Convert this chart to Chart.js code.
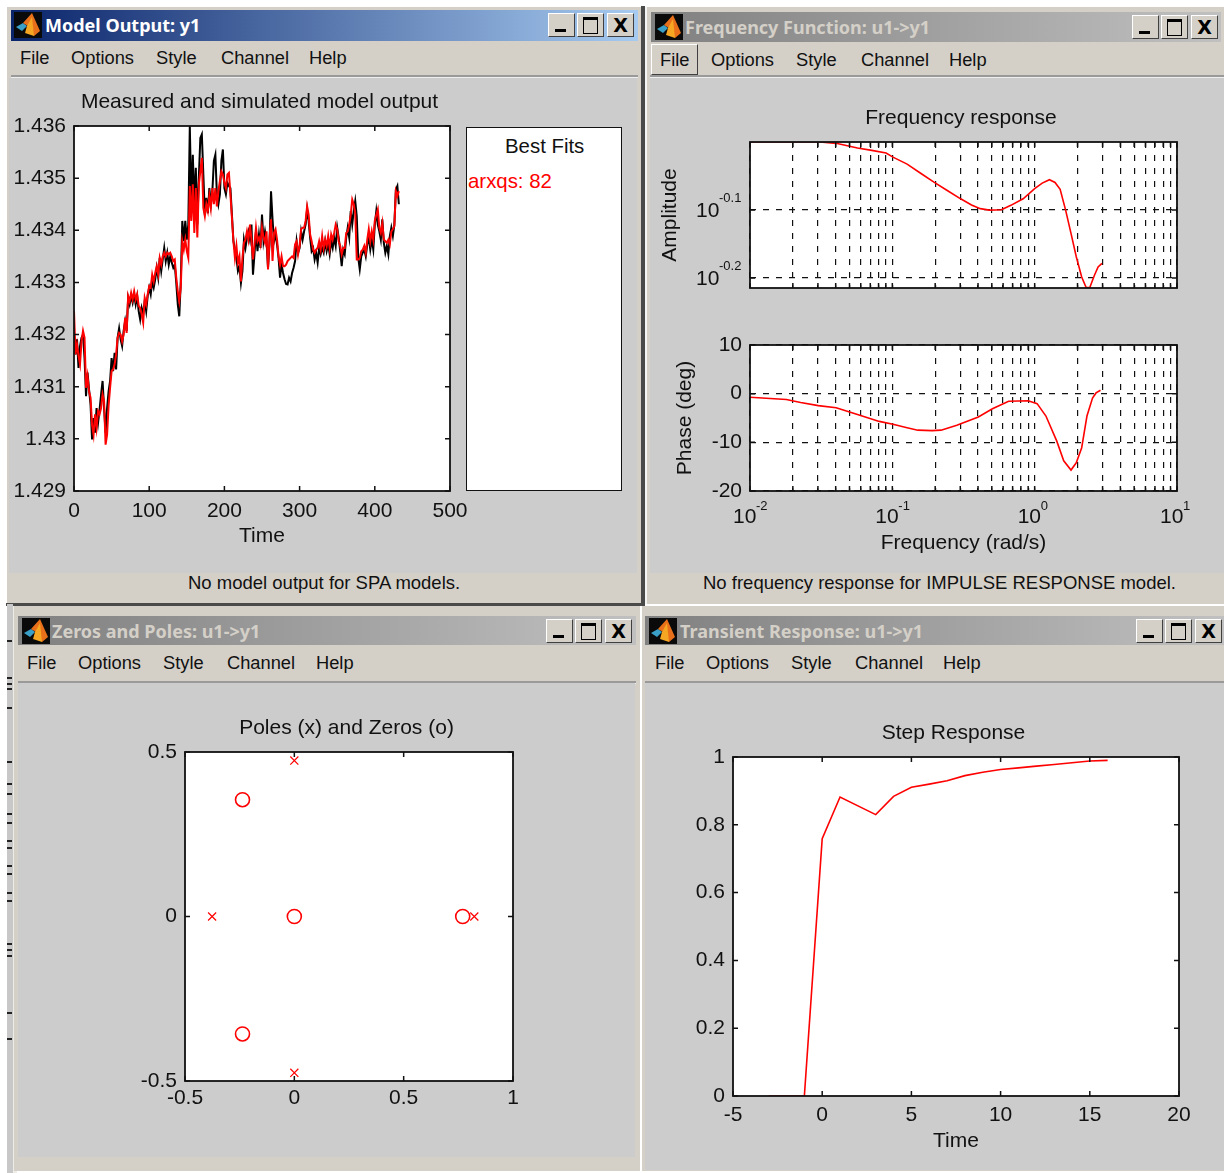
<!DOCTYPE html>
<html>
<head>
<meta charset="utf-8">
<title>System identification windows</title>
<script src="https://cdn.jsdelivr.net/npm/chart.js@4/dist/chart.umd.min.js"></script>
<style>
  html, body { margin: 0; padding: 0; background: #fff; }
  #page { position: relative; width: 1224px; height: 1173px; overflow: hidden; background: #fff; filter: blur(0.6px); font-family: 'Liberation Sans', sans-serif; color: #111; }
  #page div, #page span, #page canvas { position: absolute; }
  .menu { font-size: 18.3px; line-height: 22px; white-space: nowrap; }
  .status { font-size: 18.5px; line-height: 22px; white-space: nowrap; }
  .caption { font-family: 'Noto Sans', sans-serif; font-weight: 700; font-size: 18px; line-height: 26px; white-space: nowrap; }
  .btn { background: #d4d0c8; box-sizing: border-box; border: 1.5px solid; border-color: #fff #404040 #404040 #fff; }
</style>
</head>
<body>
<div id="page">
  <canvas id="outputChart"></canvas>
  <canvas id="amplitudeChart"></canvas>
  <canvas id="phaseChart"></canvas>
  <canvas id="polesChart"></canvas>
  <canvas id="stepChart"></canvas>
</div>
<script>
// Model output, one sample every 2 time units
const sampleStep = 2
const measured = [
  1.43200,1.43162,1.43191,1.43136,1.43178,1.43194,1.43200,1.43155,1.43082,1.43127,1.43095,1.43066,1.42999,1.43040,1.43012,1.43059,1.43031,1.43056,1.43085,1.43111,
  1.43059,1.43012,1.43059,1.43091,1.43111,1.43155,1.43130,1.43165,1.43133,1.43194,1.43212,1.43191,1.43178,1.43207,1.43226,1.43207,1.43270,1.43258,1.43274,1.43261,
  1.43277,1.43258,1.43274,1.43245,1.43229,1.43251,1.43239,1.43264,1.43245,1.43274,1.43290,1.43277,1.43302,1.43290,1.43306,1.43328,1.43309,1.43347,1.43322,1.43344,
  1.43366,1.43341,1.43357,1.43334,1.43350,1.43338,1.43328,1.43334,1.43299,1.43258,1.43235,1.43302,1.43418,1.43379,1.43418,1.43382,1.43411,1.43600,1.43456,1.43545,
  1.43450,1.43520,1.43411,1.43501,1.43577,1.43584,1.43507,1.43430,1.43462,1.43433,1.43481,1.43450,1.43475,1.43533,1.43545,1.43469,1.43450,1.43469,1.43533,1.43555,
  1.43481,1.43469,1.43491,1.43485,1.43481,1.43430,1.43379,1.43363,1.43347,1.43322,1.43331,1.43299,1.43322,1.43382,1.43366,1.43386,1.43398,1.43382,1.43411,1.43315,
  1.43354,1.43398,1.43360,1.43392,1.43366,1.43430,1.43379,1.43398,1.43379,1.43328,1.43373,1.43475,1.43421,1.43379,1.43392,1.43373,1.43347,1.43309,1.43334,1.43318,
  1.43306,1.43297,1.43296,1.43309,1.43302,1.43318,1.43328,1.43341,1.43379,1.43357,1.43366,1.43398,1.43382,1.43398,1.43411,1.43440,1.43418,1.43386,1.43360,1.43366,
  1.43344,1.43357,1.43338,1.43366,1.43354,1.43366,1.43357,1.43379,1.43360,1.43373,1.43354,1.43379,1.43366,1.43386,1.43370,1.43405,1.43386,1.43360,1.43331,1.43363,
  1.43354,1.43386,1.43405,1.43386,1.43437,1.43411,1.43437,1.43456,1.43427,1.43347,1.43325,1.43350,1.43357,1.43363,1.43350,1.43373,1.43386,1.43363,1.43382,1.43363,
  1.43411,1.43437,1.43411,1.43398,1.43382,1.43421,1.43376,1.43357,1.43370,1.43354,1.43389,1.43405,1.43389,1.43411,1.43478,1.43485,1.43450
]
const simulated = [
  1.43245,1.43162,1.43181,1.43159,1.43143,1.43187,1.43207,1.43194,1.43098,1.43120,1.43091,1.43079,1.43027,1.43008,1.43047,1.43021,1.43053,1.43047,1.43059,1.43085,
  1.43072,1.42989,1.43008,1.43063,1.43098,1.43130,1.43133,1.43143,1.43162,1.43194,1.43203,1.43200,1.43187,1.43200,1.43232,1.43203,1.43274,1.43264,1.43280,1.43267,
  1.43283,1.43267,1.43277,1.43255,1.43251,1.43239,1.43223,1.43270,1.43258,1.43277,1.43293,1.43290,1.43315,1.43302,1.43318,1.43331,1.43315,1.43347,1.43334,1.43350,
  1.43357,1.43350,1.43357,1.43354,1.43357,1.43350,1.43341,1.43344,1.43309,1.43283,1.43264,1.43290,1.43379,1.43363,1.43382,1.43360,1.43347,1.43485,1.43418,1.43488,
  1.43395,1.43481,1.43386,1.43488,1.43513,1.43539,1.43443,1.43427,1.43450,1.43437,1.43466,1.43443,1.43481,1.43450,1.43481,1.43446,1.43475,1.43494,1.43513,1.43507,
  1.43491,1.43481,1.43507,1.43510,1.43469,1.43424,1.43379,1.43347,1.43370,1.43338,1.43350,1.43302,1.43347,1.43376,1.43382,1.43398,1.43382,1.43411,1.43382,1.43344,
  1.43373,1.43405,1.43379,1.43386,1.43373,1.43405,1.43386,1.43376,1.43398,1.43325,1.43386,1.43421,1.43341,1.43395,1.43402,1.43382,1.43350,1.43334,1.43350,1.43331,
  1.43331,1.43334,1.43341,1.43344,1.43347,1.43350,1.43347,1.43373,1.43379,1.43354,1.43370,1.43402,1.43405,1.43405,1.43418,1.43446,1.43430,1.43392,1.43379,1.43363,
  1.43357,1.43363,1.43366,1.43379,1.43363,1.43389,1.43366,1.43382,1.43370,1.43389,1.43366,1.43392,1.43382,1.43395,1.43411,1.43402,1.43379,1.43370,1.43354,1.43366,
  1.43366,1.43395,1.43398,1.43411,1.43430,1.43459,1.43450,1.43433,1.43344,1.43344,1.43347,1.43360,1.43363,1.43370,1.43357,1.43382,1.43402,1.43379,1.43398,1.43382,
  1.43418,1.43430,1.43440,1.43405,1.43395,1.43414,1.43382,1.43379,1.43376,1.43382,1.43373,1.43398,1.43402,1.43408,1.43475,1.43466,1.43475
]
const outputXTicks = [0, 100, 200, 300, 400, 500]
const outputYTicks = [1.429, 1.43, 1.431, 1.432, 1.433, 1.434, 1.435, 1.436]

// Frequency response
const ampFreq = [0.01,0.0311,0.0403,0.0569,0.0717,0.0904,0.101,0.127,0.16,0.196,0.24,0.302,0.36,0.415,0.48,0.585,0.68,0.83,1.0,1.13,1.27,1.39,1.51,1.65,1.8,1.96,2.14,2.3,2.44,2.63,2.79,2.97]
const ampValues = [1,1,0.9955,0.9797,0.972,0.9633,0.95,0.928,0.898,0.873,0.85,0.825,0.808,0.798,0.794,0.795,0.807,0.825,0.854,0.87,0.88,0.872,0.852,0.794,0.734,0.678,0.633,0.611,0.611,0.637,0.655,0.663]
const phaseFreq = [0.01,0.018,0.0227,0.0302,0.0403,0.0569,0.081,0.101,0.127,0.151,0.19,0.22,0.284,0.402,0.505,0.656,0.9,1.04,1.2,1.43,1.6,1.8,1.96,2.14,2.33,2.55,2.7,2.9]
const phaseValues = [-0.75,-1.2,-1.8,-2.45,-2.9,-4.3,-5.7,-6.3,-7,-7.5,-7.6,-7.5,-6.5,-4.8,-3.1,-1.55,-1.45,-2.05,-4.6,-9.75,-13.8,-15.7,-14.2,-11.1,-4.6,-0.9,0.15,0.7]
const freqTicks = [0.01,0.02,0.03,0.04,0.05,0.06,0.07,0.08,0.09,0.1,0.2,0.3,0.4,0.5,0.6,0.7,0.8,0.9,1,2,3,4,5,6,7,8,9,10]
const freqPowers = [-2, -1, 0, 1]
const ampPowers = [-0.2, -0.1]
const phaseTicks = [-20, -10, 0, 10]

// Poles and zeros
const poleX = [0, 0, -0.376, 0.823]
const poleY = [0.474, -0.475, 0, 0]
const zeroX = [-0.237, -0.237, 0, 0.77]
const zeroY = [0.355, -0.357, 0, 0]
const polesXTicks = [-0.5, 0, 0.5, 1]
const polesYTicks = [-0.5, 0, 0.5]

// Step response
const stepTime = [-3,-1,0,1,3,4,5,6,7,8,9,10,11,12,13,14,15,16]
const stepValues = [0,0,0.759,0.882,0.83,0.884,0.911,0.92,0.93,0.945,0.955,0.963,0.968,0.973,0.978,0.983,0.988,0.99]
const stepXTicks = [-5, 0, 5, 10, 15, 20]
const stepYTicks = [0, 0.2, 0.4, 0.6, 0.8, 1]

const page = document.getElementById('page')
const chrome = '#d4d0c8'
const figure = '#cccccc'

// new boxes go underneath everything already on the page
function box(left, top, width, height, color) {
  const el = document.createElement('div')
  el.style.cssText = 'left:' + left + 'px;top:' + top + 'px;width:' + width + 'px;height:' + height + 'px;background:' + color
  page.insertBefore(el, page.firstChild)
  return el
}

function label(cls, left, top, text, color) {
  const el = document.createElement('span')
  el.className = cls
  el.style.left = left + 'px'
  el.style.top = top + 'px'
  if (color) el.style.color = color
  el.textContent = text
  page.appendChild(el)
  return el
}

function icon(left, top) {
  const holder = document.createElement('div')
  holder.style.left = left + 'px'
  holder.style.top = top + 'px'
  holder.innerHTML = '<svg width="28" height="26" viewBox="0 0 28 26" style="display:block">' +
    '<rect width="28" height="26" fill="#0a0a0a"/>' +
    '<polygon points="2,15 9,11 13,14 8,19" fill="#3aa0c8"/>' +
    '<polygon points="9,11 18,1 26,19 20,24 14,14" fill="#e8701a"/>' +
    '<polygon points="13,14 18,5 20,24 11,21" fill="#f5a623"/>' +
    '</svg>'
  page.appendChild(holder)
}

function winButtons(xs, top) {
  xs.forEach(function (x, i) {
    const b = document.createElement('div')
    b.className = 'btn'
    b.style.cssText = 'left:' + x + 'px;top:' + top + 'px;width:27px;height:24px'
    page.appendChild(b)
    const mark = document.createElement('div')
    if (i === 0) mark.style.cssText = 'left:' + (x + 7) + 'px;top:' + (top + 16) + 'px;width:11px;height:3px;background:#000'
    if (i === 1) mark.style.cssText = 'left:' + (x + 6) + 'px;top:' + (top + 4) + 'px;width:13px;height:13px;border:1.5px solid #000;border-top-width:3px;box-sizing:content-box'
    if (i === 2) {
      mark.style.cssText = 'left:' + x + 'px;top:' + (top - 1) + 'px;width:27px;text-align:center;font:700 19px/26px "DejaVu Sans",sans-serif;color:#000'
      mark.textContent = 'X'
    }
    page.appendChild(mark)
  })
}

function menuRow(xs, top) {
  const names = ['File', 'Options', 'Style', 'Channel', 'Help']
  names.forEach(function (n, i) { label('menu', xs[i], top, n) })
}

function windowChrome(w) {
  const bar = box(w.titleX, w.titleTop, w.titleW, w.titleH, 'linear-gradient(90deg,' + w.grad + ')')
  page.appendChild(bar)
  icon(w.iconX, w.titleTop + 2)
  label('caption', w.textX, w.titleTop + 2, w.title, w.textColor)
  winButtons(w.buttons, w.titleTop + 3)
  menuRow(w.menu, w.menuTop)
}

// background panels, each call sits under the previous ones
box(645, 683, 579, 487, figure)
box(18, 683, 617, 474, figure)
box(650, 78, 574, 495, figure)
box(9, 78, 628, 495, figure)
box(18, 681, 618, 1.5, '#9a9a9a'); box(18, 682.5, 618, 1.5, '#eeeeee')
box(645, 681, 579, 1.5, '#9a9a9a'); box(645, 682.5, 579, 1.5, '#eeeeee')
box(650, 75, 574, 1.5, '#9a9a9a'); box(650, 76.5, 574, 1.5, '#eeeeee')
box(11, 75, 627, 1.5, '#9a9a9a'); box(11, 76.5, 627, 1.5, '#eeeeee')
box(640, 606, 2, 565, '#ffffff')
box(642, 606, 582, 565, chrome)
box(14, 606, 626, 565, chrome)
box(13, 606, 4, 567, '#eeece6')
box(7, 604, 6, 569, '#c8c8c8')
box(6, 603, 639, 3, '#4a4a4a')
box(641, 6, 4, 600, '#4a4a4a')
box(645, 7, 2, 597, '#f4f4f4')
box(647, 7, 577, 597, chrome)
box(7, 7, 634, 596, chrome)

// clipped tick marks of the window behind
const behindMarks = [640, 677, 683, 688, 707, 761, 783, 793, 813, 822, 840, 847, 865, 873, 892, 900, 943, 949, 955, 1012, 1038]
behindMarks.forEach(function (y) { box(7, y, 5, 2, '#222').style.zIndex = 1 })
label('status', 188, 572, 'No model output for SPA models.')
label('status', 703, 572, 'No frequency response for IMPULSE RESPONSE model.')

// pressed File button in the frequency window
const pressed = document.createElement('div')
pressed.className = 'btn'
pressed.style.cssText = 'left:651px;top:44px;width:47px;height:31px;background:' + chrome
page.appendChild(pressed)

windowChrome({
  title: 'Model Output: y1', textX: 45, textColor: '#ffffff', iconX: 14,
  titleX: 11, titleTop: 10, titleW: 627, titleH: 31, grad: '#0a246a,#a6caf0',
  buttons: [548, 577, 607], menu: [20, 71, 156, 221, 309], menuTop: 47
})
windowChrome({
  title: 'Frequency Function: u1->y1', textX: 685, textColor: '#d4d0c8', iconX: 655,
  titleX: 651, titleTop: 12, titleW: 570, titleH: 30, grad: '#808080,#c0c0c0',
  buttons: [1132, 1161, 1191], menu: [660, 711, 796, 861, 949], menuTop: 49
})
windowChrome({
  title: 'Zeros and Poles: u1->y1', textX: 52, textColor: '#d4d0c8', iconX: 22,
  titleX: 18, titleTop: 616, titleW: 618, titleH: 29, grad: '#808080,#c0c0c0',
  buttons: [546, 575, 605], menu: [27, 78, 163, 227, 316], menuTop: 652
})
windowChrome({
  title: 'Transient Response: u1->y1', textX: 680, textColor: '#d4d0c8', iconX: 649,
  titleX: 645, titleTop: 616, titleW: 579, titleH: 29, grad: '#808080,#c0c0c0',
  buttons: [1136, 1165, 1195], menu: [655, 706, 791, 855, 943], menuTop: 652
})

// Best Fits legend box
const fits = box(466, 127, 156, 364, '#fff')
fits.style.boxSizing = 'border-box'
fits.style.border = '1.5px solid #111'
fits.style.zIndex = 2
label('status', 505, 135, 'Best Fits').style.fontSize = '20.4px'
label('status', 468, 170, 'arxqs: 82', '#ff0000').style.fontSize = '20.4px'
Array.from(page.querySelectorAll('.status')).forEach(function (s) { s.style.zIndex = 3 })

Array.from(page.querySelectorAll('canvas')).forEach(function (c) { c.style.zIndex = 4 })

// Chart defaults
Chart.defaults.font.family = "'Liberation Sans', sans-serif"
Chart.defaults.font.size = 21
Chart.defaults.color = '#111'
Chart.defaults.animation = false
Chart.defaults.responsive = false

// white axes, inward ticks on all four sides, then the axes box
const frameTicks = {
  id: 'frameTicks',
  afterLayout(chart) {
    // MATLAB titles sit a little left of the axes centre
    if (chart.titleBlock) chart.titleBlock.left -= 5
  },
  beforeDraw(chart) {
    const area = chart.chartArea
    chart.ctx.fillStyle = '#fff'
    chart.ctx.fillRect(area.left, area.top, area.right - area.left, area.bottom - area.top)
  },
  afterDatasetsDraw(chart) {
    const ctx = chart.ctx
    const area = chart.chartArea
    const len = 5
    ctx.save()
    ctx.strokeStyle = '#111'
    ctx.lineWidth = 1.5
    ctx.beginPath()
    chart.scales.x.ticks.forEach(function (t) {
      const px = chart.scales.x.getPixelForValue(t.value)
      ctx.moveTo(px, area.bottom); ctx.lineTo(px, area.bottom - len)
      ctx.moveTo(px, area.top); ctx.lineTo(px, area.top + len)
    })
    chart.scales.y.ticks.forEach(function (t) {
      const py = chart.scales.y.getPixelForValue(t.value)
      ctx.moveTo(area.left, py); ctx.lineTo(area.left + len, py)
      ctx.moveTo(area.right, py); ctx.lineTo(area.right - len, py)
    })
    ctx.stroke()
    ctx.lineWidth = 1.8
    ctx.strokeRect(area.left, area.top, area.right - area.left, area.bottom - area.top)
    ctx.restore()
  }
}

// 10^n labels with a raised exponent
const powerLabels = {
  id: 'powerLabels',
  afterDraw(chart, args, opts) {
    const ctx = chart.ctx
    const area = chart.chartArea
    ctx.save()
    ctx.fillStyle = '#111'
    ctx.textBaseline = 'alphabetic'
    ctx.textAlign = 'left'
    const base = "21px 'Liberation Sans', sans-serif"
    const sup = "13px 'Liberation Sans', sans-serif"
    ;(opts.x || []).forEach(function (p) {
      const px = chart.scales.x.getPixelForValue(Math.pow(10, p))
      ctx.font = base
      ctx.fillText('10', px - 17, area.bottom + 32)
      ctx.font = sup
      ctx.fillText(String(p), px + 6, area.bottom + 19)
    })
    ;(opts.y || []).forEach(function (p) {
      const py = chart.scales.y.getPixelForValue(Math.pow(10, p))
      ctx.font = base
      ctx.fillText('10', area.left - 54, py + 7)
      ctx.font = sup
      ctx.fillText(String(p), area.left - 31, py - 8)
    })
    ctx.restore()
  }
}

function place(id, rect) {
  const c = document.getElementById(id)
  c.width = rect.w
  c.height = rect.h
  c.style.left = rect.x + 'px'
  c.style.top = rect.y + 'px'
  return c
}

function layoutFor(rect, plot, yW, xH, titled) {
  return {
    autoPadding: false,
    padding: {
      left: plot.l - rect.x - yW,
      right: rect.x + rect.w - plot.r,
      top: plot.t - rect.y - (titled ? 36.2 : 0),
      bottom: rect.y + rect.h - plot.b - xH
    }
  }
}

function chartTitle(text) {
  return { display: true, fullSize: false, text: text, font: { size: 21, weight: 'normal', lineHeight: 1.2 }, padding: { top: 0, bottom: 11 }, color: '#111' }
}

function axisTitle(text) {
  if (!text) return { display: false }
  return { display: true, text: text, font: { size: 21, lineHeight: 1.2 }, padding: 0, color: '#111' }
}

function linearX(min, max, values, h, pad, title) {
  return {
    type: 'linear', min: min, max: max,
    afterBuildTicks(s) { s.ticks = values.map(function (v) { return { value: v } }) },
    afterFit(s) { s.height = h },
    grid: { display: false, drawTicks: false, tickLength: 0 },
    border: { display: false },
    ticks: { autoSkip: false, maxRotation: 0, padding: pad, callback(v) { return String(v) } },
    title: axisTitle(title)
  }
}

function linearY(min, max, values, w, title) {
  return {
    type: 'linear', min: min, max: max,
    afterBuildTicks(s) { s.ticks = values.map(function (v) { return { value: v } }) },
    afterFit(s) { s.width = w },
    grid: { display: false, drawTicks: false, tickLength: 0 },
    border: { display: false },
    ticks: { autoSkip: false, padding: 8, callback(v) { return String(v) } },
    title: axisTitle(title)
  }
}

function logFreqX(h, title) {
  return {
    type: 'logarithmic', min: 0.01, max: 10,
    afterBuildTicks(s) { s.ticks = freqTicks.map(function (v) { return { value: v } }) },
    afterFit(s) { s.height = h },
    grid: { color: '#111', lineWidth: 1.2, drawTicks: false, tickLength: 0 },
    border: { display: false, dash: [6, 7] },
    ticks: { display: false, autoSkip: false },
    title: axisTitle(title)
  }
}

function dashedY(base) {
  base.grid = { color: '#111', lineWidth: 1.2, drawTicks: false, tickLength: 0 }
  base.border = { display: false, dash: [6, 7] }
  return base
}

function lineSet(data, color, width) {
  return { data: data, borderColor: color, borderWidth: width || 1.6, pointRadius: 0, tension: 0, fill: false }
}

function pairs(xs, ys) {
  return ys.map(function (y, i) { return { x: xs[i], y: y } })
}

// Model output, first dataset is painted last so red stays on top
const outputRect = { x: 10, y: 85, w: 499, h: 475 }
const outputPlot = { l: 74, t: 126, r: 450, b: 491 }
const sampleTime = measured.map(function (v, i) { return i * sampleStep })
new Chart(place('outputChart', outputRect), {
  type: 'line',
  data: { datasets: [lineSet(pairs(sampleTime, simulated), '#ff0000', 2), lineSet(pairs(sampleTime, measured), '#000', 2)] },
  options: {
    parsing: false,
    layout: layoutFor(outputRect, outputPlot, 61, 58, true),
    plugins: { legend: { display: false }, tooltip: { enabled: false }, title: chartTitle('Measured and simulated model output') },
    scales: {
      x: linearX(0, 500, outputXTicks, 58, 8, 'Time'),
      y: linearY(1.429, 1.436, outputYTicks, 61)
    }
  },
  plugins: [frameTicks]
})

// Amplitude
const ampRect = { x: 655, y: 95, w: 610, h: 200 }
const ampPlot = { l: 750, t: 142, r: 1177, b: 288 }
new Chart(place('amplitudeChart', ampRect), {
  type: 'line',
  data: { datasets: [lineSet(pairs(ampFreq, ampValues), '#ff0000')] },
  options: {
    parsing: false,
    layout: layoutFor(ampRect, ampPlot, 92, 0, true),
    plugins: {
      legend: { display: false }, tooltip: { enabled: false }, title: chartTitle('Frequency response'),
      powerLabels: { y: ampPowers }
    },
    scales: {
      x: logFreqX(0),
      y: {
        type: 'logarithmic', min: 0.61, max: 1,
        afterBuildTicks(s) { s.ticks = ampPowers.map(function (p) { return { value: Math.pow(10, p) } }) },
        afterFit(s) { s.width = 92 },
        grid: { color: '#111', lineWidth: 1.2, drawTicks: false, tickLength: 0 },
        border: { display: false, dash: [6, 7] },
        ticks: { display: false, autoSkip: false },
        title: axisTitle('Amplitude')
      }
    }
  },
  plugins: [powerLabels, frameTicks]
})

// Phase
const phaseRect = { x: 655, y: 300, w: 600, h: 270 }
const phasePlot = { l: 750, t: 345, r: 1177, b: 491 }
new Chart(place('phaseChart', phaseRect), {
  type: 'line',
  data: { datasets: [lineSet(pairs(phaseFreq, phaseValues), '#ff0000')] },
  options: {
    parsing: false,
    layout: layoutFor(phaseRect, phasePlot, 77, 65, false),
    plugins: {
      legend: { display: false }, tooltip: { enabled: false },
      powerLabels: { x: freqPowers }
    },
    scales: {
      x: logFreqX(65, 'Frequency (rad/s)'),
      y: dashedY(linearY(-20, 10, phaseTicks, 77, 'Phase (deg)'))
    }
  },
  plugins: [powerLabels, frameTicks]
})

// Poles and zeros
const polesRect = { x: 100, y: 700, w: 493, h: 430 }
const polesPlot = { l: 185, t: 752, r: 513, b: 1081 }
new Chart(place('polesChart', polesRect), {
  type: 'scatter',
  data: {
    datasets: [
      { data: pairs(poleX, poleY), pointStyle: 'crossRot', pointRadius: 5.7, pointBorderColor: '#ff0000', pointBorderWidth: 1.2, showLine: false },
      { data: pairs(zeroX, zeroY), pointStyle: 'circle', pointRadius: 7, pointBackgroundColor: 'transparent', pointBorderColor: '#ff0000', pointBorderWidth: 1.6, showLine: false }
    ]
  },
  options: {
    parsing: false,
    layout: layoutFor(polesRect, polesPlot, 60, 40, true),
    plugins: { legend: { display: false }, tooltip: { enabled: false }, title: chartTitle('Poles (x) and Zeros (o)') },
    scales: {
      x: linearX(-0.5, 1, polesXTicks, 40, 5),
      y: linearY(-0.5, 0.5, polesYTicks, 60)
    }
  },
  plugins: [frameTicks]
})

// Step response
const stepRect = { x: 690, y: 705, w: 527, h: 460 }
const stepPlot = { l: 733, t: 757, r: 1179, b: 1096 }
new Chart(place('stepChart', stepRect), {
  type: 'line',
  data: { datasets: [lineSet(pairs(stepTime, stepValues), '#ff0000')] },
  options: {
    parsing: false,
    layout: layoutFor(stepRect, stepPlot, 40, 58, true),
    plugins: { legend: { display: false }, tooltip: { enabled: false }, title: chartTitle('Step Response') },
    scales: {
      x: linearX(-5, 20, stepXTicks, 58, 7, 'Time'),
      y: linearY(0, 1, stepYTicks, 40)
    }
  },
  plugins: [frameTicks]
})
</script>
</body>
</html>
